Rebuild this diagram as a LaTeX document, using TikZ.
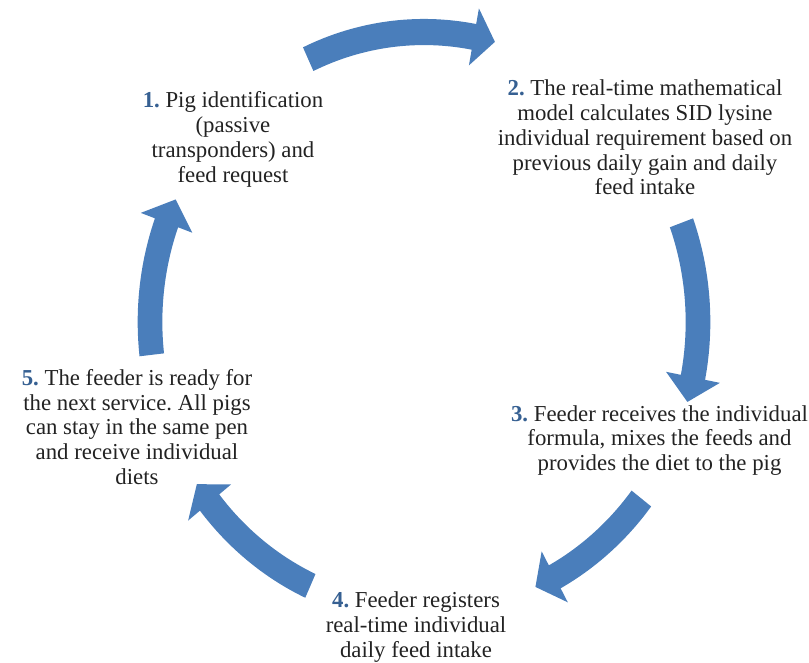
\documentclass[tikz,border=0pt]{standalone}
\usepackage{fontspec}
\setmainfont{Liberation Serif}
\frenchspacing
\definecolor{arrowblue}{RGB}{74,126,187}
\definecolor{numblue}{RGB}{54,96,146}
\definecolor{txtgray}{RGB}{34,34,34}
\tikzset{
  steptext/.style={inner sep=0pt, align=center, text=txtgray,
    font=\fontsize{22.8}{24.8}\selectfont},
  cyclearrow/.style={fill=arrowblue, draw=none}
}
\newcommand{\num}[1]{\textcolor{numblue}{\textbf{#1}}}
\begin{document}
\begin{tikzpicture}[x=1pt,y=1pt]
\useasboundingbox (0,0) rectangle (809,662);
% curved block arrows on an ellipse
\begin{scope}[shift={(424,340)}, xscale=274, yscale=290]
  \def\bw{0.045}
  \def\hw{0.1}
  \foreach \ta/\tb/\tc in {115/75/79.5, 20/-16/-11, -37.5/-66/-61.5, -114.5/-146/-141.5, 186.5/155/160}{
    \pgfmathsetmacro{\ro}{1+\bw}
    \pgfmathsetmacro{\ri}{1-\bw}
    \pgfmathsetmacro{\ho}{1+\hw}
    \pgfmathsetmacro{\hi}{1-\hw}
    \fill[cyclearrow] (\ta:\ro) arc[start angle=\ta, end angle=\tc, radius=\ro]
      -- (\tc:\ho) -- (\tb:1) -- (\tc:\hi) -- (\tc:\ri)
      arc[start angle=\tc, end angle=\ta, radius=\ri] -- cycle;
  }
\end{scope}
% texts
\node[steptext] (s1) at (233,522.5) {\num{1.} Pig identification\\(passive\\transponders) and\\feed request};
\node[steptext] (s2) at (645,524.5) {\num{2.} The real-time mathematical\\model calculates SID lysine\\individual requirement based on\\previous daily gain and daily\\feed intake};
\node[steptext] (s3) at (659.5,221.5) {\num{3.} Feeder receives the individual\\formula, mixes the feeds and\\provides the diet to the pig};
\node[steptext] (s4) at (416,35) {\num{4.} Feeder registers\\real-time individual\\daily feed intake};
\node[steptext] (s5) at (137,235) {\num{5.} The feeder is ready for\\the next service. All pigs\\can stay in the same pen\\and receive individual\\diets};
\end{tikzpicture}
\end{document}
